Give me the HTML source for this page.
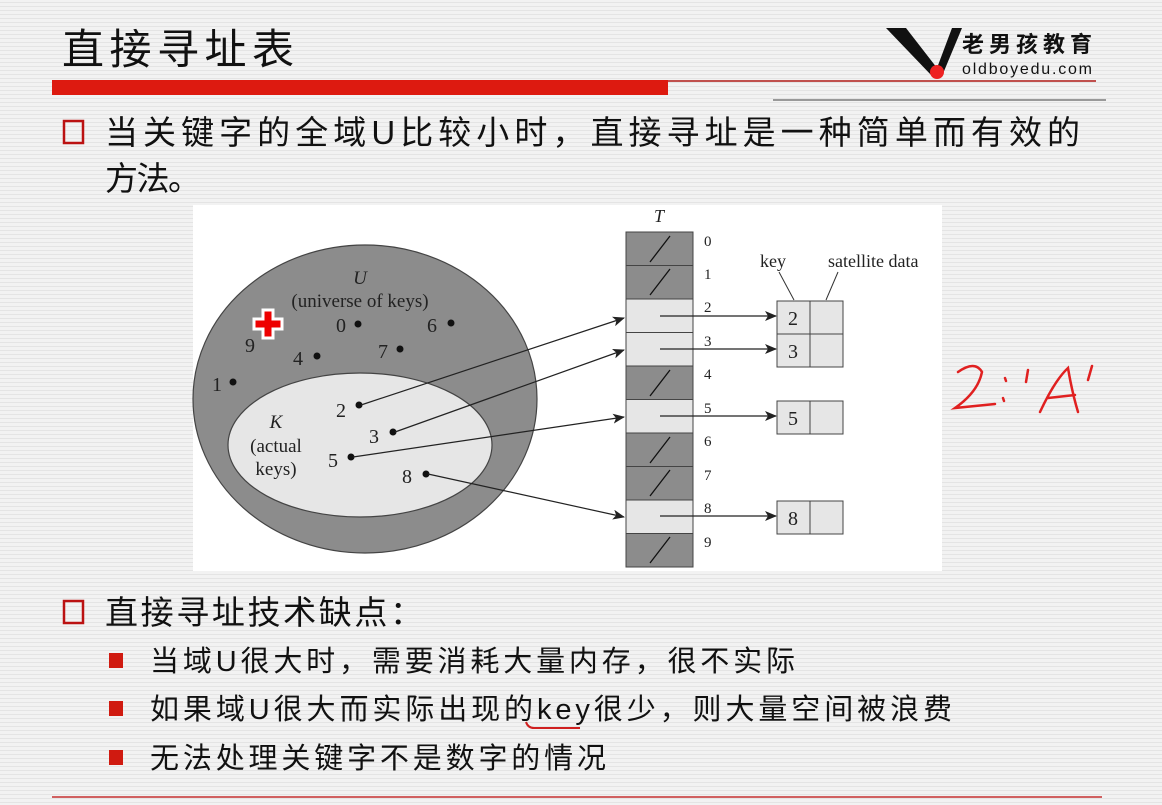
<!DOCTYPE html>
<html><head><meta charset="utf-8"><style>
html,body{margin:0;padding:0;background:#efefef;}
svg{display:block;}
.cj{font-family:"Liberation Sans","Noto Sans CJK SC",sans-serif;fill:#111;}
.tm{font-family:"Liberation Serif",serif;fill:#222;}
</style></head><body>
<svg width="1162" height="805" viewBox="0 0 1162 805" xmlns="http://www.w3.org/2000/svg">
<defs>
<pattern id="st" width="4" height="4" patternUnits="userSpaceOnUse"><rect width="4" height="4" fill="#f2f2f2"/><rect y="2" width="4" height="1" fill="#e4e4e4"/></pattern>
<marker id="ar" markerWidth="12" markerHeight="10" refX="11" refY="5" orient="auto" markerUnits="userSpaceOnUse"><path d="M0,0 L12,5 L0,10 L3,5 Z" fill="#222"/></marker>
</defs>
<rect width="1162" height="805" fill="url(#st)"/>
<text x="62" y="64" class="cj" font-size="42" textLength="232">直接寻址表</text>
<rect x="52" y="80" width="616" height="15" fill="#dd1a10"/>
<rect x="668" y="80" width="428" height="2" fill="#c0504d"/>
<rect x="773" y="99" width="333" height="2" fill="#999"/>
<path d="M886,28 L906,28 L937,68 L952,28 L962,28 L942,76 L932,76 Z" fill="#111"/>
<circle cx="937" cy="72" r="7" fill="#e22"/>
<text x="962" y="52" class="cj" font-size="22" font-weight="bold" textLength="130">老男孩教育</text>
<text x="962" y="74" font-family="Liberation Sans,sans-serif" font-size="16" fill="#111" textLength="130">oldboyedu.com</text>
<rect x="64" y="121" width="19" height="22" fill="none" stroke="#b11" stroke-width="2.5"/>
<text x="105" y="144" class="cj" font-size="33" textLength="975">当关键字的全域U比较小时，直接寻址是一种简单而有效的</text>
<text x="105" y="190" class="cj" font-size="33" textLength="96">方法。</text>
<rect x="193" y="205" width="749" height="366" fill="#fff"/>
<ellipse cx="365" cy="399" rx="172" ry="154" fill="#8c8c8c" stroke="#444" stroke-width="1.2"/>
<ellipse cx="360" cy="445" rx="132" ry="72" fill="#e6e6e6" stroke="#444" stroke-width="1.2"/>
<text x="360" y="284" class="tm" font-size="19" font-style="italic" text-anchor="middle">U</text>
<text x="360" y="307" class="tm" font-size="19" text-anchor="middle">(universe of keys)</text>
<text x="276" y="428" class="tm" font-size="19" font-style="italic" text-anchor="middle">K</text>
<text x="276" y="452" class="tm" font-size="19" text-anchor="middle">(actual</text>
<text x="276" y="475" class="tm" font-size="19" text-anchor="middle">keys)</text>
<g class="tm" font-size="20">
<text x="336" y="332">0</text><text x="427" y="332">6</text><text x="378" y="358">7</text>
<text x="293" y="365">4</text><text x="212" y="391">1</text><text x="245" y="352">9</text>
<text x="336" y="417">2</text><text x="369" y="443">3</text><text x="328" y="467">5</text>
<text x="402" y="483">8</text>
</g>
<g fill="#111">
<circle cx="358" cy="324" r="3.5"/><circle cx="451" cy="323" r="3.5"/><circle cx="400" cy="349" r="3.5"/>
<circle cx="317" cy="356" r="3.5"/><circle cx="233" cy="382" r="3.5"/>
<circle cx="359" cy="405" r="3.5"/><circle cx="393" cy="432" r="3.5"/><circle cx="351" cy="457" r="3.5"/><circle cx="426" cy="474" r="3.5"/>
</g>
<path d="M263,310 h10 v9 h9 v10 h-9 v9 h-10 v-9 h-9 v-10 h9 z" fill="#e00" stroke="#fff" stroke-width="3"/>
<text x="659" y="222" class="tm" font-size="18" font-style="italic" text-anchor="middle">T</text>
<g stroke="#444" stroke-width="1">
<rect x="626" y="232" width="67" height="33.5" fill="#8c8c8c"/>
<rect x="626" y="265.5" width="67" height="33.5" fill="#8c8c8c"/>
<rect x="626" y="299" width="67" height="33.5" fill="#e6e6e6"/>
<rect x="626" y="332.5" width="67" height="33.5" fill="#e6e6e6"/>
<rect x="626" y="366" width="67" height="33.5" fill="#8c8c8c"/>
<rect x="626" y="399.5" width="67" height="33.5" fill="#e6e6e6"/>
<rect x="626" y="433" width="67" height="33.5" fill="#8c8c8c"/>
<rect x="626" y="466.5" width="67" height="33.5" fill="#8c8c8c"/>
<rect x="626" y="500" width="67" height="33.5" fill="#e6e6e6"/>
<rect x="626" y="533.5" width="67" height="33.5" fill="#8c8c8c"/>
</g>
<g stroke="#111" stroke-width="1.3">
<line x1="650" y1="262" x2="670" y2="236"/><line x1="650" y1="295" x2="670" y2="269"/>
<line x1="650" y1="396" x2="670" y2="370"/><line x1="650" y1="463" x2="670" y2="437"/>
<line x1="650" y1="496" x2="670" y2="470"/><line x1="650" y1="563" x2="670" y2="537"/>
</g>
<g class="tm" font-size="15">
<text x="704" y="246">0</text><text x="704" y="279">1</text><text x="704" y="312">2</text><text x="704" y="346">3</text>
<text x="704" y="379">4</text><text x="704" y="413">5</text><text x="704" y="446">6</text><text x="704" y="480">7</text>
<text x="704" y="513">8</text><text x="704" y="547">9</text>
</g>
<text x="760" y="267" class="tm" font-size="18">key</text>
<text x="828" y="267" class="tm" font-size="18">satellite data</text>
<g stroke="#333" stroke-width="1"><line x1="779" y1="272" x2="794" y2="300"/><line x1="838" y1="272" x2="826" y2="300"/></g>
<g stroke="#444" stroke-width="1" fill="#e6e6e6">
<rect x="777" y="301" width="66" height="33"/><line x1="810" y1="301" x2="810" y2="334"/>
<rect x="777" y="334" width="66" height="33"/><line x1="810" y1="334" x2="810" y2="367"/>
<rect x="777" y="401" width="66" height="33"/><line x1="810" y1="401" x2="810" y2="434"/>
<rect x="777" y="501" width="66" height="33"/><line x1="810" y1="501" x2="810" y2="534"/>
</g>
<g class="tm" font-size="20" text-anchor="middle">
<text x="793" y="325">2</text><text x="793" y="358">3</text><text x="793" y="425">5</text><text x="793" y="525">8</text>
</g>
<g stroke="#222" stroke-width="1.2" marker-end="url(#ar)">
<line x1="660" y1="316" x2="776" y2="316"/><line x1="660" y1="349" x2="776" y2="349"/>
<line x1="660" y1="416" x2="776" y2="416"/><line x1="660" y1="516" x2="776" y2="516"/>
<line x1="361" y1="405" x2="624" y2="318"/><line x1="395" y1="432" x2="624" y2="350"/>
<line x1="353" y1="457" x2="624" y2="417"/><line x1="428" y1="474" x2="624" y2="517"/>
</g>
<g stroke="#e02020" stroke-width="2.5" fill="none" stroke-linecap="round">
<path d="M958,372 Q975,360 982,372 Q978,392 955,408 L995,404"/>
<path d="M1005,378 l1,3 M1003,398 l1,3"/>
<path d="M1028,370 l-2,12"/>
<path d="M1040,412 Q1055,380 1068,368 Q1072,392 1078,412 M1048,398 L1075,395"/>
<path d="M1092,366 l-4,14"/>
</g>
<rect x="64" y="601" width="19" height="22" fill="none" stroke="#b11" stroke-width="2.5"/>
<text x="105" y="624" class="cj" font-size="33" textLength="318">直接寻址技术缺点：</text>
<rect x="109" y="653" width="14" height="15" fill="#d01a10"/>
<rect x="109" y="701" width="14" height="15" fill="#d01a10"/>
<rect x="109" y="750" width="14" height="15" fill="#d01a10"/>
<text x="150" y="671" class="cj" font-size="29" textLength="645">当域U很大时，需要消耗大量内存，很不实际</text>
<text x="150" y="719" class="cj" font-size="29" textLength="802">如果域U很大而实际出现的key很少，则大量空间被浪费</text>
<path d="M526,722 q2,6 8,6 h46" stroke="#d02020" stroke-width="2" fill="none"/>
<text x="150" y="768" class="cj" font-size="29" textLength="456">无法处理关键字不是数字的情况</text>
<rect x="52" y="796" width="1050" height="2" fill="#d06060"/>
</svg>
</body></html>
